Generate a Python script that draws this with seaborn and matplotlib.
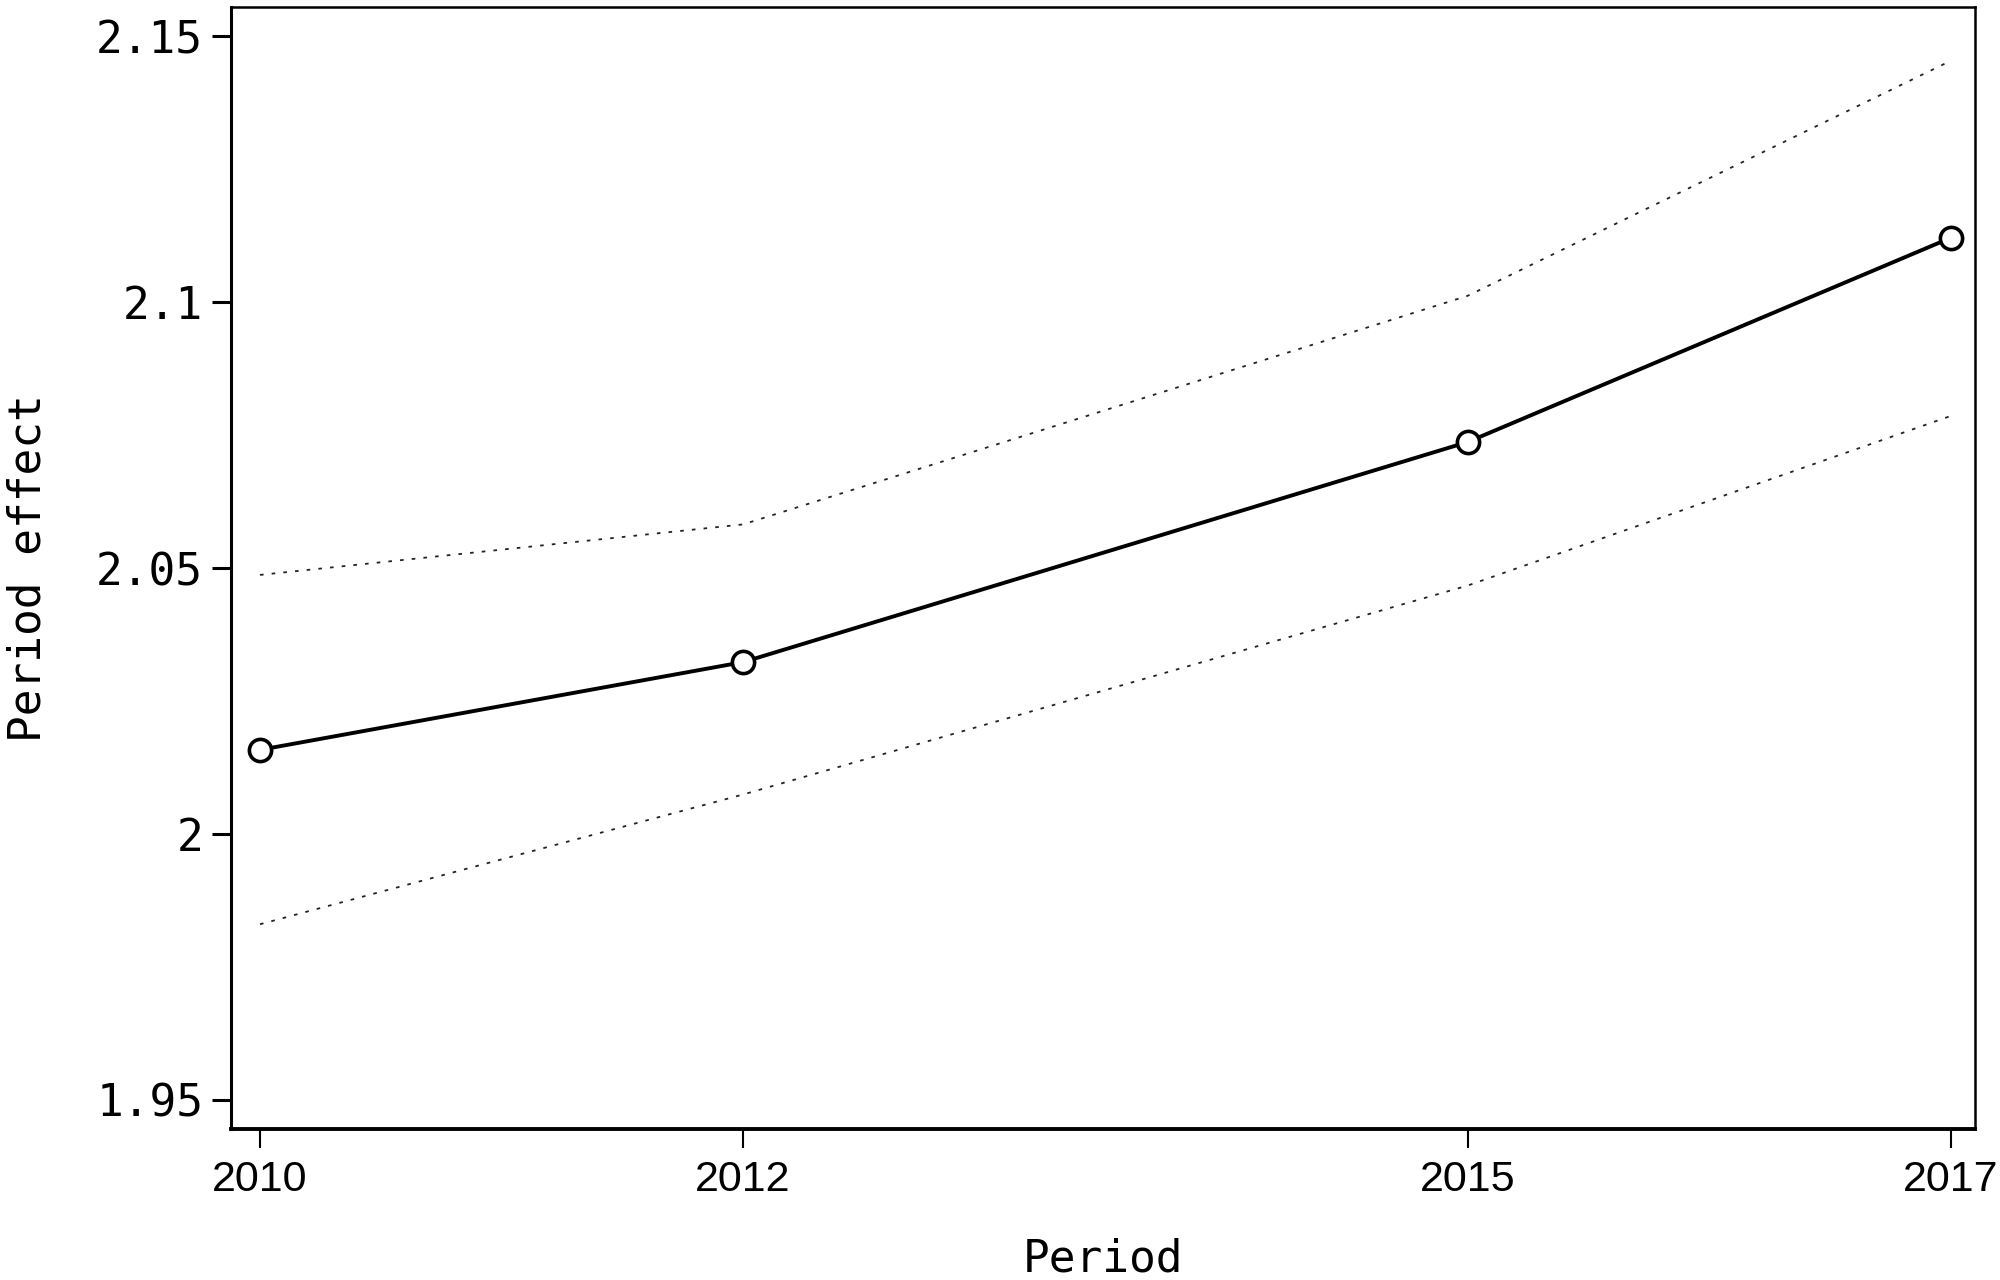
import matplotlib
matplotlib.use("Agg")
import matplotlib.pyplot as plt
import numpy as np
import pandas as pd
import seaborn as sns

# values
years = [2010, 2012, 2015, 2017]
effect = [2.0158, 2.0323, 2.0737, 2.1121]
upper = [2.0487, 2.0582, 2.1012, 2.1454]
lower = [1.9830, 2.0074, 2.0467, 2.0786]
y_ticks = [1.95, 2.0, 2.05, 2.1, 2.15]
y_ticklabels = ["1.95", "2", "2.05", "2.1", "2.15"]

df = pd.DataFrame({"year": years, "effect": effect, "upper": upper, "lower": lower})

sns.set_style("ticks", {"axes.edgecolor": "black", "text.color": "black",
                        "xtick.color": "black", "ytick.color": "black",
                        "axes.labelcolor": "black"})
mono = ["DejaVu Sans Mono", "DejaVu Sans"]
sans = ["Liberation Sans", "DejaVu Sans"]

fig = plt.figure(figsize=(20, 12.8), dpi=100)
ax = fig.add_axes([0.1155, 0.118, 0.872, 0.8765])

dots = (0, (2, 4.5))
sns.lineplot(data=df, x="year", y="upper", color="#222222", lw=1.3,
             linestyle=dots, ax=ax)
sns.lineplot(data=df, x="year", y="lower", color="#222222", lw=1.3,
             linestyle=dots, ax=ax)
sns.lineplot(data=df, x="year", y="effect", color="black", lw=2.8,
             marker="o", ms=16, mfc="white", mec="black", mew=2.6, ax=ax)

ax.set(xlim=(2009.88, 2017.1), ylim=(1.9445, 2.1555))
ax.set_xticks(years)
ax.set_xticklabels([str(y) for y in years], family=sans, fontsize=31)
ax.set_yticks(y_ticks)
ax.set_yticklabels(y_ticklabels, family=mono, fontsize=32)

for side in ["top", "right"]:
    ax.spines[side].set_linewidth(1.8)
ax.spines["left"].set_linewidth(2.2)
ax.spines["bottom"].set_linewidth(2.8)
ax.tick_params(axis="y", length=14, width=2.2, pad=6, color="black")
ax.tick_params(axis="x", length=14, width=1.5, pad=8, color="black")

ax.set_xlabel("Period", family=mono, fontsize=32)
ax.set_ylabel("Period effect", family=mono, fontsize=32)
ax.xaxis.set_label_coords(0.5, -0.097)
ax.yaxis.set_label_coords(-0.104, 0.5)

fig.savefig("out.png", dpi=100, facecolor="white")
